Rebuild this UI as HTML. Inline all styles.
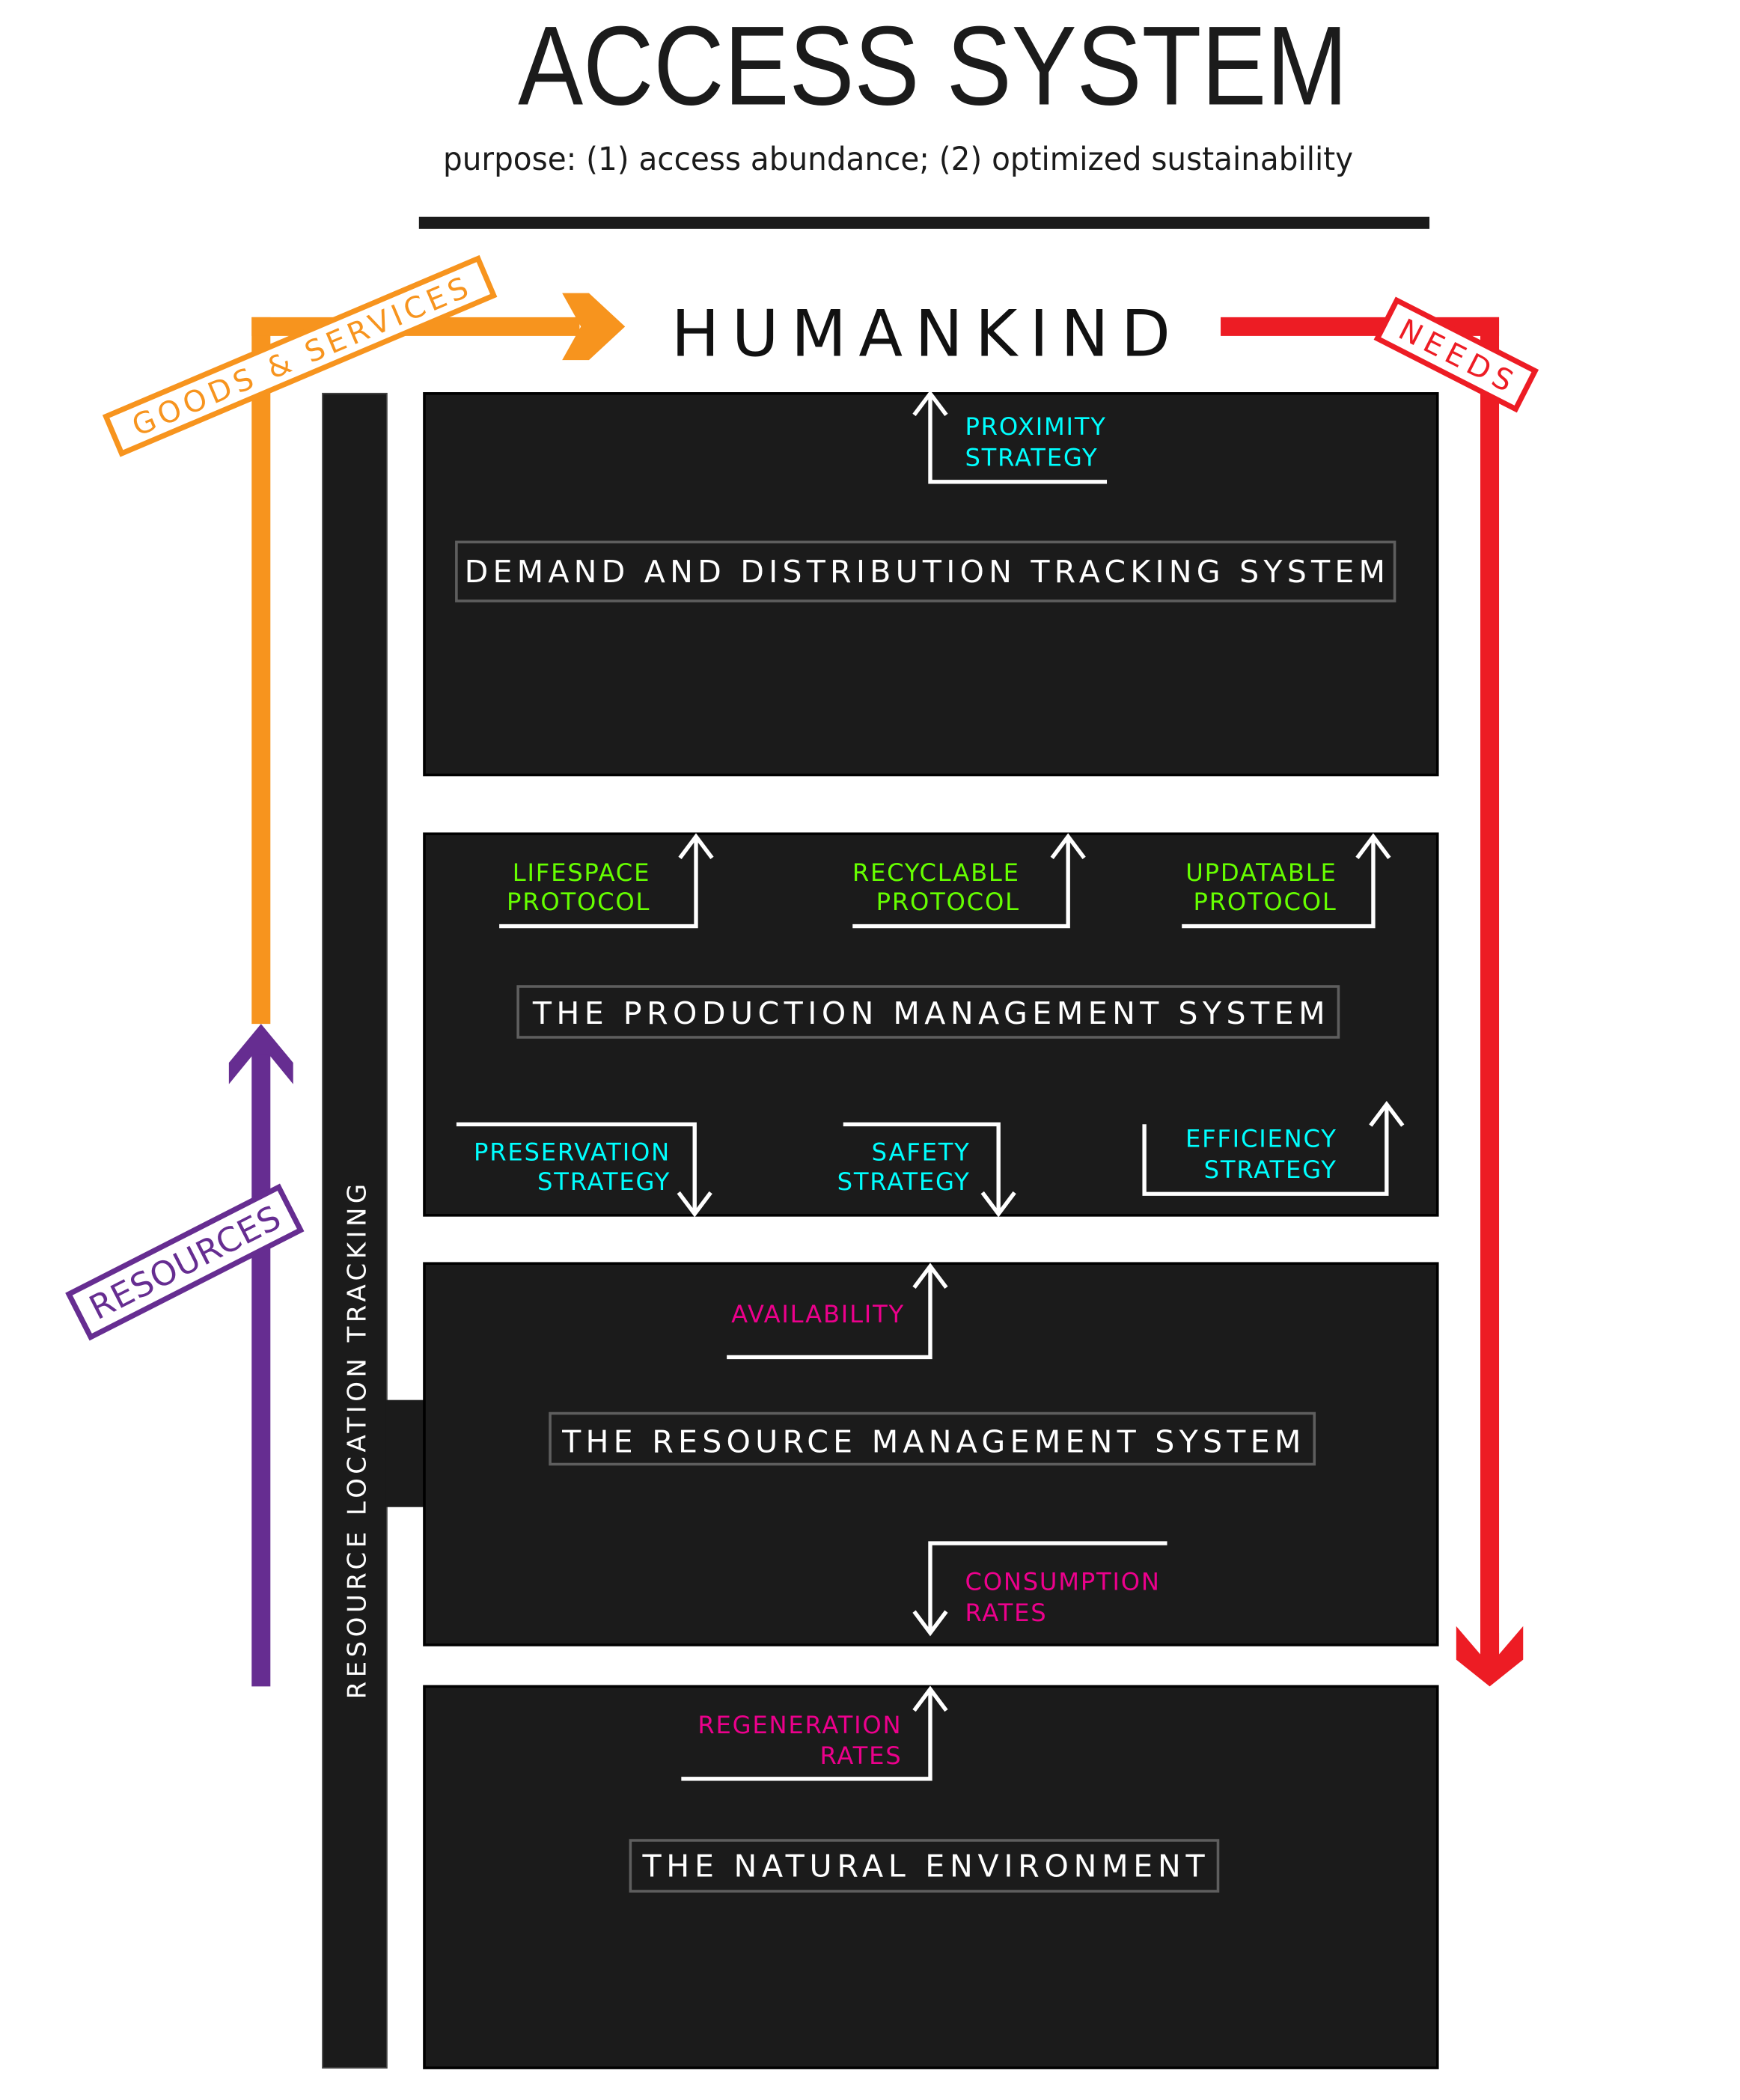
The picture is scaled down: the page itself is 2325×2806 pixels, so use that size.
<!DOCTYPE html>
<html><head><meta charset="utf-8"><style>html,body{margin:0;padding:0;background:#fff}svg{display:block}</style></head>
<body>
<svg width="2325" height="2806" viewBox="0 0 1300 1569" xmlns="http://www.w3.org/2000/svg" font-family="'DejaVu Sans','Liberation Sans',sans-serif">
<rect width="1300" height="1569" fill="#fff"/>
<text x="697" y="78" font-size="84" text-anchor="middle" fill="#1b1b1b" textLength="620" lengthAdjust="spacingAndGlyphs" font-family="'Liberation Sans',sans-serif">ACCESS SYSTEM</text>
<text x="671" y="127" font-size="24" text-anchor="middle" fill="#1b1b1b" textLength="680" lengthAdjust="spacingAndGlyphs">purpose: (1) access abundance; (2) optimized sustainability</text>
<rect x="313" y="162" width="755" height="9" fill="#1b1b1b"/>
<text x="688" y="266" font-size="48" text-anchor="middle" fill="#111" textLength="373" lengthAdjust="spacing">HUMANKIND</text>

<!-- orange -->
<rect x="188" y="237" width="14" height="528" fill="#f7941e"/>
<rect x="188" y="237" width="245" height="14" fill="#f7941e"/>
<polygon points="420,219 440,219 467,244 440,269 420,269 434,244" fill="#f7941e"/>
<g transform="translate(224,266) rotate(-23)">
<rect x="-151" y="-15" width="302" height="30" fill="#fff" stroke="#f7941e" stroke-width="4"/>
<text x="0" y="8" font-size="22" text-anchor="middle" fill="#f7941e" textLength="270" lengthAdjust="spacing">GOODS &amp; SERVICES</text>
</g>

<!-- red -->
<rect x="912" y="237" width="208" height="14" fill="#ed1c24"/>
<rect x="1106" y="237" width="14" height="1010" fill="#ed1c24"/>
<polygon points="1088,1215 1106,1236 1106,1220 1120,1220 1120,1236 1138,1215 1138,1240 1113,1260 1088,1240" fill="#ed1c24"/>
<g transform="translate(1088,265) rotate(27)">
<rect x="-58" y="-16" width="116" height="32" fill="#fff" stroke="#ed1c24" stroke-width="4"/>
<text x="0" y="8" font-size="22" text-anchor="middle" fill="#ed1c24" textLength="92" lengthAdjust="spacing">NEEDS</text>
</g>

<!-- purple -->
<rect x="188" y="785" width="14" height="475" fill="#662d91"/>
<polygon points="195,765 219,794 219,810 201,788 189,788 171,810 171,794" fill="#662d91"/>
<g transform="translate(138,943) rotate(-27)">
<rect x="-88" y="-18" width="176" height="36" fill="#fff" stroke="#662d91" stroke-width="4"/>
<text x="0" y="9" font-size="25" text-anchor="middle" fill="#662d91" textLength="156" lengthAdjust="spacing">RESOURCES</text>
</g>

<!-- left bar -->
<rect x="241" y="294" width="48" height="1251" fill="#1b1b1b" stroke="#444" stroke-width="1"/>
<rect x="288" y="1046" width="30" height="80" fill="#1b1b1b"/>
<text transform="translate(273,1077) rotate(-90)" x="0" y="0" font-size="19" text-anchor="middle" fill="#fff" textLength="385" lengthAdjust="spacing">RESOURCE LOCATION TRACKING</text>

<!-- boxes -->
<g fill="#1b1b1b" stroke="#000" stroke-width="2">
<rect x="317" y="294" width="757" height="285"/>
<rect x="317" y="623" width="757" height="285"/>
<rect x="317" y="944" width="757" height="285"/>
<rect x="317" y="1260" width="757" height="285"/>
</g>
<g fill="none" stroke="#5e5e5e" stroke-width="2">
<rect x="341" y="405" width="701" height="44"/>
<rect x="387" y="737" width="613" height="38"/>
<rect x="411" y="1056" width="571" height="38"/>
<rect x="471" y="1375" width="439" height="38"/>
</g>
<g font-size="23" fill="#fff" text-anchor="middle">
<text x="691" y="435" textLength="688" lengthAdjust="spacing">DEMAND AND DISTRIBUTION TRACKING SYSTEM</text>
<text x="694" y="765" textLength="592" lengthAdjust="spacing">THE PRODUCTION MANAGEMENT SYSTEM</text>
<text x="696" y="1085" textLength="552" lengthAdjust="spacing">THE RESOURCE MANAGEMENT SYSTEM</text>
<text x="690" y="1402" textLength="420" lengthAdjust="spacing">THE NATURAL ENVIRONMENT</text>
</g>

<!-- connectors -->
<g fill="none" stroke="#fff" stroke-width="3">
<path d="M827 360 H695 V296 M683 310 L695 294 L707 310"/>
<path d="M373 692 H520 V627 M508 641 L520 625 L532 641"/>
<path d="M637 692 H798 V627 M786 641 L798 625 L810 641"/>
<path d="M883 692 H1026 V627 M1014 641 L1026 625 L1038 641"/>
<path d="M341 840 H519 V905 M507 891 L519 907 L531 891"/>
<path d="M630 840 H746 V905 M734 891 L746 907 L758 891"/>
<path d="M855 840 V892 H1036 V827 M1024 841 L1036 825 L1048 841"/>
<path d="M543 1014 H695 V948 M683 962 L695 946 L707 962"/>
<path d="M872 1153 H695 V1218 M683 1204 L695 1220 L707 1204"/>
<path d="M509 1329 H695 V1264 M683 1278 L695 1262 L707 1278"/>
</g>
<g font-size="18" letter-spacing="1">
<text x="721" y="325" fill="#00ffff">PROXIMITY</text>
<text x="721" y="348" fill="#00ffff">STRATEGY</text>
<g text-anchor="end" fill="#66ff00">
<text x="486" y="658">LIFESPACE</text><text x="486" y="680">PROTOCOL</text>
<text x="762" y="658">RECYCLABLE</text><text x="762" y="680">PROTOCOL</text>
<text x="999" y="658">UPDATABLE</text><text x="999" y="680">PROTOCOL</text>
</g>
<g text-anchor="end" fill="#00ffff">
<text x="501" y="867">PRESERVATION</text><text x="501" y="889">STRATEGY</text>
<text x="725" y="867">SAFETY</text><text x="725" y="889">STRATEGY</text>
<text x="999" y="857">EFFICIENCY</text><text x="999" y="880">STRATEGY</text>
</g>
<g fill="#ec008c">
<text x="676" y="988" text-anchor="end">AVAILABILITY</text>
<text x="721" y="1188">CONSUMPTION</text><text x="721" y="1211">RATES</text>
<text x="674" y="1295" text-anchor="end">REGENERATION</text><text x="674" y="1318" text-anchor="end">RATES</text>
</g>
</g>
</svg>
</body></html>
